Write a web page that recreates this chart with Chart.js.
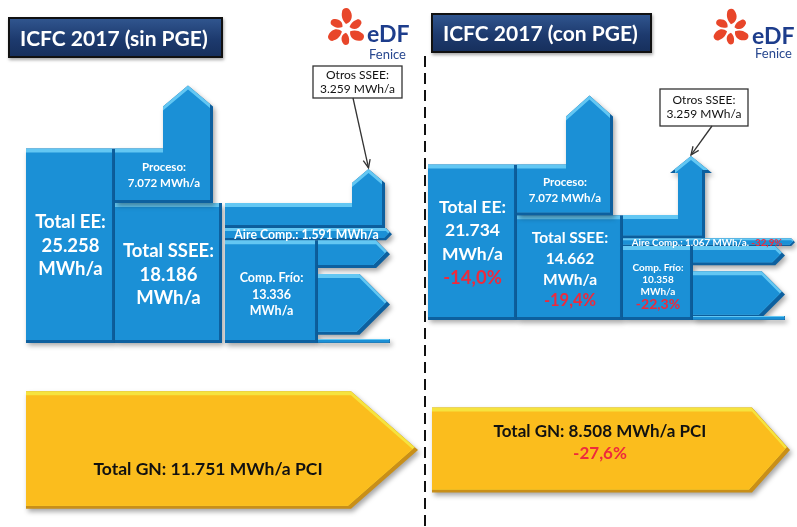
<!DOCTYPE html>
<html lang="es">
<head>
<meta charset="utf-8">
<title>ICFC 2017 - sin PGE / con PGE</title>
<script src="https://cdn.jsdelivr.net/npm/chart.js@4.4.1/dist/chart.umd.min.js"></script>
<style>
  html, body { margin: 0; padding: 0; background: #fff; }
  #stage { position: relative; width: 797px; height: 527px; overflow: hidden; font-family: Lato, 'Open Sans', sans-serif; }
  #chart { position: absolute; left: 0; top: 0; }
  .title {
    position: absolute; box-sizing: border-box; border: 2px solid #111;
    background: linear-gradient(#30558e, #1d3a6e 55%, #17305d);
    color: #fff; font-weight: bold; font-size: 21px; padding-left: 10px;
    box-shadow: 1px 2px 3px rgba(0,0,0,.35); white-space: nowrap;
  }
  svg.overlay { position: absolute; left: 0; top: 0; }
</style>
</head>
<body>
<div id="stage">
  <canvas id="chart" width="797" height="527"></canvas>
  <div class="title" id="t0" style="left:8px;top:17px;width:215px;height:41px;line-height:37px;"></div>
  <div class="title" id="t1" style="left:431px;top:13px;width:221px;height:40px;line-height:36px;"></div>
  <svg class="overlay" width="797" height="527">
    <defs>
      <path id="petal" d="M0,-5 C6,-7 8,-14 3,-20 C1,-22 -4,-21 -4,-17 C-5,-12 -3,-8 0,-5Z" fill="#e8462a"/>
      <g id="flor">
        <use href="#petal" transform="rotate(0) scale(1.05)"/>
        <use href="#petal" transform="rotate(62) scale(0.85)"/>
        <use href="#petal" transform="rotate(118) scale(1.0)"/>
        <use href="#petal" transform="rotate(180) scale(0.8)"/>
        <use href="#petal" transform="rotate(240) scale(1.0)"/>
        <use href="#petal" transform="rotate(298) scale(0.85)"/>
      </g>
    </defs>
    <line x1="425" y1="56" x2="425" y2="527" stroke="#111" stroke-width="2" stroke-dasharray="11 6"/>
    <!-- logo izquierda -->
    <use href="#flor" transform="translate(346,29) scale(0.95)"/>
    <text x="367" y="42" font-family="Lato" font-weight="bold" font-size="23" fill="#1d3d8c">eDF</text>
    <text x="369" y="59" font-family="Lato" font-size="13" fill="#27478f">Fenice</text>
    <!-- logo derecha -->
    <use href="#flor" transform="translate(731,29) scale(0.92)"/>
    <text x="752" y="44" font-family="Lato" font-weight="bold" font-size="23" fill="#1d3d8c">eDF</text>
    <text x="755" y="58" font-family="Lato" font-size="13" fill="#27478f">Fenice</text>
  </svg>
</div>
<script>
// ── Datos (MWh/a) — [sin PGE, con PGE] ────────────────────────
const escenarios  = ['ICFC 2017 (sin PGE)', 'ICFC 2017 (con PGE)'];
const totalEE     = [25258, 21734];
const totalSSEE   = [18186, 14662];
const proceso     = [7072, 7072];
const otrosSSEE   = [3259, 3259];
const aireComp    = [1591, 1067];
const compFrio    = [13336, 10358];
const frioSalida1 = [3600, 2700];   // flecha superior de Comp. Frío (sin etiqueta, estimada)
const frioSalida2 = [7900, 6500];   // flecha inferior de Comp. Frío (sin etiqueta, estimada)
const totalGN     = [11751, 8508];

// ── Maquetación (unidades del eje x, px de altura de flechas) ──
const H = 527;
const panels = [
  { y: 'yL', ee: [26, 115], ssee: [115, 222], proc: [115, 213], procShaft: [163, 213], procHead: [163, 213], procUp: [42, 21],
    usos: [225, 318], otrosShaft: [352, 385], otrosHead: [352, 385], otrosUp: [20, 14], aireEnd: 392, salida: [318, 390],
    callout: [313, 66, 402, 98], calloutFrom: 353, gn: [26, 351, 418],
    fEE: 18.5, lhEE: 23.5, fSS: 18.5, lhSS: 23.5, fProc: 11.5, lhProc: 16, fAire: 12.3, fFrio: 12.5, lhFrio: 16.5, fPct: 13,
    gnText: [208, 19], fGN: 17.5 },
  { y: 'yR', ee: [428, 517], ssee: [517, 623], proc: [517, 613], procShaft: [566, 613], procHead: [566, 613], procUp: [48, 21],
    usos: [623, 693], otrosShaft: [678, 705], otrosHead: [670, 712], otrosUp: [42, 17], aireEnd: 795, salida: [693, 785],
    callout: [660, 89, 748, 126], calloutFrom: 712, gn: [432, 752, 790],
    fEE: 17.5, lhEE: 23.5, fSS: 15.5, lhSS: 21, fProc: 11.5, lhProc: 16, fAire: 9.8, fFrio: 10, lhFrio: 12.3, fPct: 14,
    gnText: [600, -18], fGN: 17 }
];
const baseL = 343, pxL = 0.0077;   // px por MWh panel izquierdo
const baseR = 320, pxR = 0.00715;  // px por MWh panel derecho
const baseG = 450, pxG = 0.0100;   // flechas de gas natural

const BLUE = { main: '#1b90d6', light: '#63c7f3', dark: '#0d609f' };
const GOLD = { main: '#fbbd1d', light: '#f6e33e', dark: '#c98f18' };
const RED = '#ee2a3c';

const fmt = v => String(v).replace(/\B(?=(\d{3})+(?!\d))/g, '.');
const pct = (a, b) => ((b - a) / a * 100).toFixed(1).replace('.', ',') + '%';

escenarios.forEach((t, i) => document.getElementById('t' + i).textContent = t);

// ── Dibujo ───────────────────────────────────────────────────
function bevel(ctx, pts, col) {
  const ys = pts.map(p => p[1]);
  const h = Math.max(...ys) - Math.min(...ys);
  const t = Math.min(4, h * 0.25), r = Math.min(3, h * 0.18);
  const path = (dx, dy) => {
    ctx.beginPath();
    pts.forEach((p, k) => k ? ctx.lineTo(p[0] + dx, p[1] + dy) : ctx.moveTo(p[0] + dx, p[1] + dy));
    ctx.closePath();
  };
  ctx.save();
  ctx.shadowColor = 'rgba(0,0,0,0.35)'; ctx.shadowBlur = 5; ctx.shadowOffsetX = 2; ctx.shadowOffsetY = 3;
  path(0, 0); ctx.fillStyle = col.dark; ctx.fill();
  ctx.restore();
  ctx.save();
  path(0, 0); ctx.clip();
  path(-r, -r); ctx.fillStyle = col.light; ctx.fill(); ctx.clip();
  path(0, t); ctx.fillStyle = col.main; ctx.fill();
  ctx.restore();
}

function lines(ctx, rows, cx, cy, lh) {
  const y0 = cy - (rows.length - 1) * lh / 2;
  ctx.textAlign = 'center'; ctx.textBaseline = 'middle';
  rows.forEach((r, k) => {
    ctx.font = `bold ${r.f}px Lato, 'Open Sans', sans-serif`;
    ctx.fillStyle = r.c || '#fff';
    ctx.fillText(r.t, cx, y0 + k * lh);
  });
}

const flujo = {
  id: 'flujo',
  afterDraw(chart) {
    const ctx = chart.ctx;
    const X = v => chart.scales.x.getPixelForValue(v);
    const G = v => chart.scales.yG.getPixelForValue(v);
    panels.forEach((p, i) => {
      const Y = v => chart.scales[p.y].getPixelForValue(v);
      const ee = totalEE[i], ss = totalSSEE[i], pr = proceso[i], ot = otrosSSEE[i];
      const ai = aireComp[i], fr = compFrio[i], s1 = frioSalida1[i], s2 = frioSalida2[i];
      const y0 = Y(0);
      const rect = (xa, ya, xb, yb) => [[xa, ya], [xb, ya], [xb, yb], [xa, yb]];

      // Total EE y Total SSEE
      bevel(ctx, rect(X(p.ee[0]), Y(ee), X(p.ee[1]), y0), BLUE);
      bevel(ctx, rect(X(p.ssee[0]), Y(ss), X(p.ssee[1]), y0), BLUE);

      // Proceso (flecha hacia arriba)
      const pt = Y(ss + pr), pb = Y(ss);
      const psh = pt - p.procUp[0], ptip = psh - p.procUp[1];
      bevel(ctx, [[X(p.proc[0]), pt], [X(p.procShaft[0]), pt], [X(p.procShaft[0]), psh], [X(p.procHead[0]), psh],
        [X((p.procHead[0] + p.procHead[1]) / 2), ptip], [X(p.procHead[1]), psh], [X(p.procShaft[1]), psh],
        [X(p.procShaft[1]), pb], [X(p.proc[0]), pb]], BLUE);

      // Otros SSEE (flecha hacia arriba)
      const ot0 = Y(fr + ai + ot), ot1 = Y(fr + ai);
      const osh = ot0 - p.otrosUp[0], otip = osh - p.otrosUp[1];
      const otx = X((p.otrosHead[0] + p.otrosHead[1]) / 2);
      bevel(ctx, [[X(p.usos[0]), ot0], [X(p.otrosShaft[0]), ot0], [X(p.otrosShaft[0]), osh], [X(p.otrosHead[0]), osh],
        [otx, otip], [X(p.otrosHead[1]), osh], [X(p.otrosShaft[1]), osh], [X(p.otrosShaft[1]), ot1],
        [X(p.usos[0]), ot1]], BLUE);

      // Aire comprimido (banda hacia la derecha)
      const a0 = Y(fr + ai), a1 = Y(fr), ah = Math.min((a1 - a0) / 2, 6);
      bevel(ctx, [[X(p.usos[0]), a0], [X(p.aireEnd) - ah, a0], [X(p.aireEnd), (a0 + a1) / 2],
        [X(p.aireEnd) - ah, a1], [X(p.usos[0]), a1]], BLUE);

      // Comp. Frío y sus salidas
      bevel(ctx, rect(X(p.usos[0]), Y(fr), X(p.usos[1]), y0), BLUE);
      const arrowR = (ya, yb) => {
        const hh = (yb - ya) / 2;
        bevel(ctx, [[X(p.salida[0]), ya], [X(p.salida[1]) - hh, ya], [X(p.salida[1]), ya + hh],
          [X(p.salida[1]) - hh, yb], [X(p.salida[0]), yb]], BLUE);
      };
      arrowR(Y(fr), Y(fr - s1));
      arrowR(Y(fr - s1) + 6, Y(fr - s1 - s2) + 6);
      bevel(ctx, rect(X(p.salida[0]), y0 - 4, X(p.salida[1]), y0), BLUE);

      // Gas natural
      const gt = G(totalGN[i] / 2), gb = G(-totalGN[i] / 2), gm = (gt + gb) / 2;
      bevel(ctx, [[X(p.gn[0]), gt], [X(p.gn[1]), gt], [X(p.gn[2]), gm], [X(p.gn[1]), gb], [X(p.gn[0]), gb]], GOLD);

      // Textos
      const eeRows = [{ t: 'Total EE:', f: p.fEE }, { t: fmt(ee), f: p.fEE }, { t: 'MWh/a', f: p.fEE }];
      const ssRows = [{ t: 'Total SSEE:', f: p.fSS }, { t: fmt(ss), f: p.fSS }, { t: 'MWh/a', f: p.fSS }];
      const frRows = [{ t: 'Comp. Frío:', f: p.fFrio }, { t: fmt(fr), f: p.fFrio }, { t: 'MWh/a', f: p.fFrio }];
      if (i > 0) {
        eeRows.push({ t: pct(totalEE[0], ee), f: p.fEE + 1, c: RED });
        ssRows.push({ t: pct(totalSSEE[0], ss), f: p.fSS + 1, c: RED });
        frRows.push({ t: pct(compFrio[0], fr), f: p.fPct, c: RED });
      }
      lines(ctx, eeRows, X((p.ee[0] + p.ee[1]) / 2), (Y(ee) + y0) / 2, p.lhEE);
      lines(ctx, ssRows, X((p.ssee[0] + p.ssee[1]) / 2), (Y(ss) + y0) / 2 + 2, p.lhSS);
      lines(ctx, frRows, X((p.usos[0] + p.usos[1]) / 2), (Y(fr) + y0) / 2 + 3, p.lhFrio);
      lines(ctx, [{ t: 'Proceso:', f: p.fProc }, { t: fmt(pr) + ' MWh/a', f: p.fProc }],
        X((p.proc[0] + p.proc[1]) / 2), (pt + pb) / 2, p.lhProc);

      // Aire comprimido: texto en una línea (blanco + rojo)
      ctx.font = `bold ${p.fAire}px Lato, 'Open Sans', sans-serif`;
      const aTxt = `Aire Comp.: ${fmt(ai)} MWh/a` + (i > 0 ? '. ' : '');
      const aPct = i > 0 ? pct(aireComp[0], ai) : '';
      const wa = ctx.measureText(aTxt).width, wp = ctx.measureText(aPct).width;
      const ax = X((p.usos[0] + p.aireEnd) / 2) - (wa + wp) / 2 - 2, ay = (a0 + a1) / 2 + 0.5;
      ctx.textAlign = 'left'; ctx.textBaseline = 'middle';
      ctx.fillStyle = '#fff'; ctx.fillText(aTxt, ax, ay);
      ctx.fillStyle = RED; ctx.fillText(aPct, ax + wa, ay);

      // Gas natural texto
      const gnRows = [{ t: `Total GN: ${fmt(totalGN[i])} MWh/a PCI`, f: p.fGN, c: '#111' }];
      if (i > 0) gnRows.push({ t: pct(totalGN[0], totalGN[i]), f: p.fGN, c: RED });
      lines(ctx, gnRows, X(p.gnText[0]), gm + p.gnText[1] + (gnRows.length - 1) * 11, 22);

      // Llamada "Otros SSEE"
      const [bx0, by0, bx1, by1] = p.callout.map((v, k) => k % 2 ? v : X(v));
      ctx.save();
      ctx.fillStyle = '#fff'; ctx.strokeStyle = '#333'; ctx.lineWidth = 1.3;
      ctx.fillRect(bx0, by0, bx1 - bx0, by1 - by0); ctx.strokeRect(bx0, by0, bx1 - bx0, by1 - by0);
      ctx.fillStyle = '#111'; ctx.font = `12px Lato, 'Open Sans', sans-serif`;
      ctx.textAlign = 'center'; ctx.textBaseline = 'middle';
      const bcx = (bx0 + bx1) / 2, bcy = (by0 + by1) / 2;
      ctx.fillText('Otros SSEE:', bcx, bcy - 7);
      ctx.fillText(fmt(ot) + ' MWh/a', bcx, bcy + 7);
      const lx = X(p.calloutFrom), tx = otx, ty = otip - 1;
      ctx.beginPath(); ctx.moveTo(lx, by1); ctx.lineTo(tx, ty); ctx.stroke();
      const ang = Math.atan2(ty - by1, tx - lx);
      ctx.beginPath();
      ctx.moveTo(tx - 9 * Math.cos(ang - 0.4), ty - 9 * Math.sin(ang - 0.4));
      ctx.lineTo(tx, ty);
      ctx.lineTo(tx - 9 * Math.cos(ang + 0.4), ty - 9 * Math.sin(ang + 0.4));
      ctx.stroke();
      ctx.restore();
    });
  }
};

new Chart(document.getElementById('chart'), {
  type: 'scatter',
  data: { datasets: [] },
  options: {
    responsive: false,
    animation: false,
    events: [],
    layout: { padding: 0 },
    plugins: { legend: { display: false }, tooltip: { enabled: false } },
    scales: {
      x:  { type: 'linear', display: false, min: 0, max: 797 },
      yL: { type: 'linear', display: false, min: -(H - baseL) / pxL, max: baseL / pxL },
      yR: { type: 'linear', display: false, min: -(H - baseR) / pxR, max: baseR / pxR },
      yG: { type: 'linear', display: false, min: -(H - baseG) / pxG, max: baseG / pxG }
    }
  },
  plugins: [flujo]
});
</script>
</body>
</html>
